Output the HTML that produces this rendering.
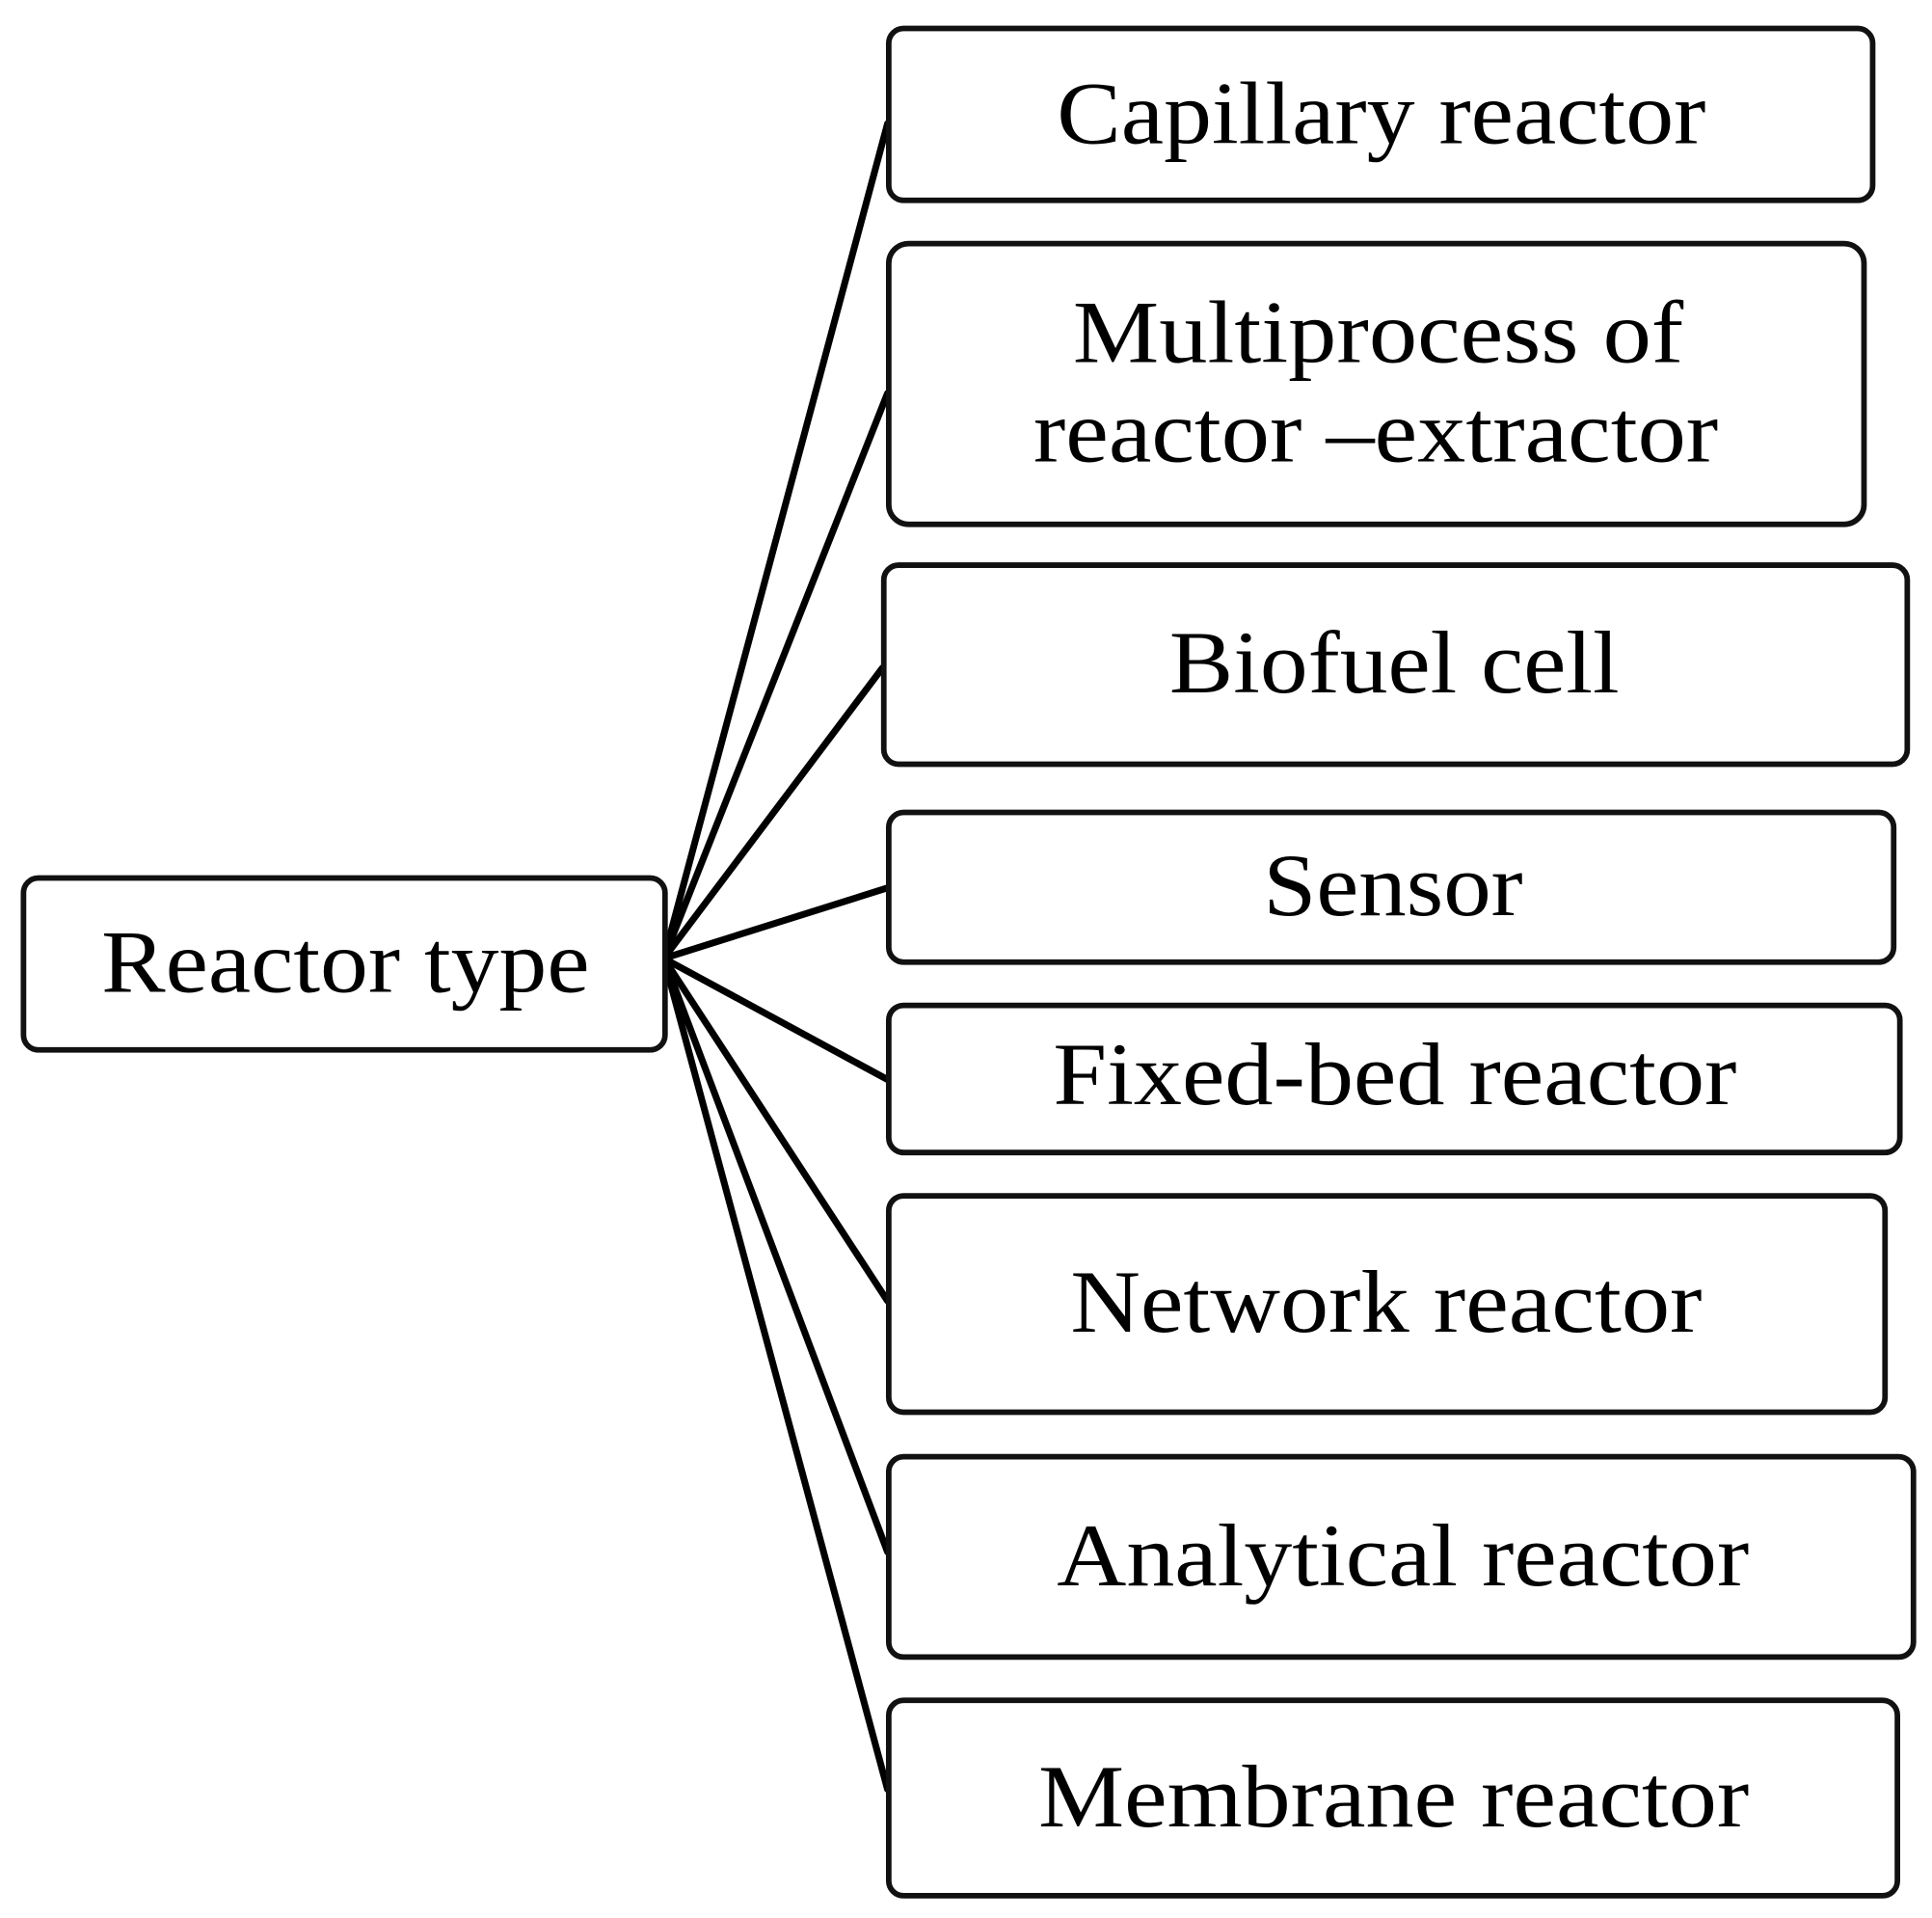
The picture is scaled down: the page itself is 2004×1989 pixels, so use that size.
<!DOCTYPE html>
<html><head><style>
html,body{margin:0;padding:0;background:#fff;}
svg{display:block;}
text{font-family:"Liberation Serif",serif;fill:#000;}
</style></head><body>
<svg width="2004" height="1989" viewBox="0 0 1563 1551" preserveAspectRatio="none" xmlns="http://www.w3.org/2000/svg">
<g stroke="#000" stroke-width="5.5" fill="none" stroke-linecap="round">
<line x1="537" y1="775" x2="718" y2="100"/>
<line x1="537" y1="775" x2="718" y2="318"/>
<line x1="537" y1="775" x2="714" y2="540"/>
<line x1="537" y1="775" x2="718" y2="718"/>
<line x1="537" y1="775" x2="718" y2="873"/>
<line x1="537" y1="775" x2="718" y2="1052"/>
<line x1="537" y1="775" x2="718" y2="1255"/>
<line x1="537" y1="775" x2="718" y2="1447"/>
</g>
<g stroke="#111" stroke-width="4.5" fill="#fff">
<rect x="19" y="710" width="519" height="139" rx="12"/>
<rect x="719" y="23" width="796" height="139" rx="12"/>
<rect x="719" y="197" width="789" height="227" rx="16"/>
<rect x="715" y="457" width="828" height="161" rx="12"/>
<rect x="719" y="657" width="813" height="121" rx="12"/>
<rect x="719" y="813" width="818" height="119" rx="12"/>
<rect x="719" y="967" width="806" height="175" rx="12"/>
<rect x="719" y="1178" width="829" height="162" rx="12"/>
<rect x="719" y="1375" width="816" height="158" rx="12"/>
</g>
<g font-size="72">
<text x="82" y="802" textLength="395" lengthAdjust="spacingAndGlyphs">Reactor type</text>
<text x="855" y="116" textLength="525" lengthAdjust="spacingAndGlyphs">Capillary reactor</text>
<text x="868" y="293" textLength="494" lengthAdjust="spacingAndGlyphs">Multiprocess of</text>
<text x="836" y="373" textLength="554" lengthAdjust="spacingAndGlyphs">reactor –extractor</text>
<text x="946" y="560" textLength="364" lengthAdjust="spacingAndGlyphs">Biofuel cell</text>
<text x="1022" y="740" textLength="210" lengthAdjust="spacingAndGlyphs">Sensor</text>
<text x="852" y="893" textLength="553" lengthAdjust="spacingAndGlyphs">Fixed-bed reactor</text>
<text x="866" y="1077" textLength="511" lengthAdjust="spacingAndGlyphs">Network reactor</text>
<text x="855" y="1282" textLength="560" lengthAdjust="spacingAndGlyphs">Analytical reactor</text>
<text x="840" y="1477" textLength="575" lengthAdjust="spacingAndGlyphs">Membrane reactor</text>
</g>
</svg>
</body></html>
